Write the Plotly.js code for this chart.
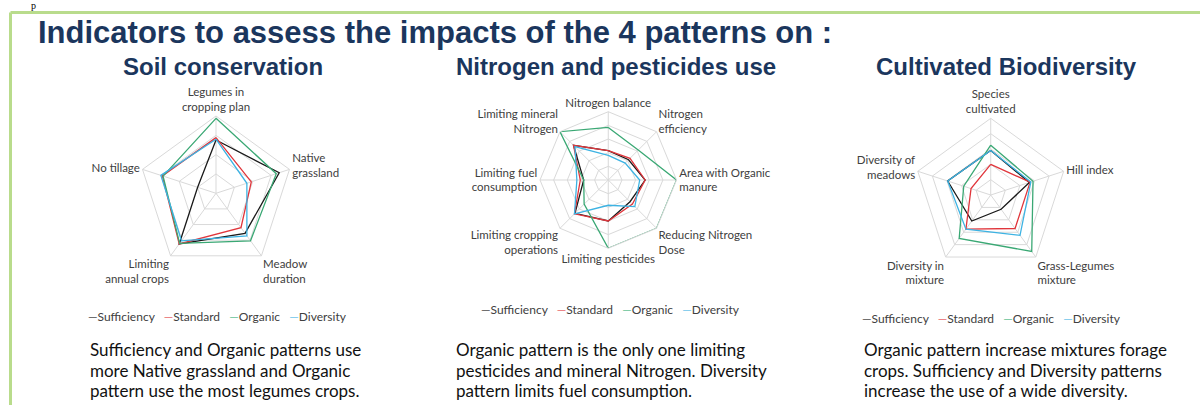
<!DOCTYPE html>
<html>
<head>
<meta charset="utf-8">
<script src="https://cdn.plot.ly/plotly-3.0.1.min.js"></script>
<style>html,body{margin:0;padding:0;background:#fff;}#chart{width:1200px;height:405px;}</style>
</head>
<body>
<div id="chart"></div>
<script>
// ---- Data ----
const seriesNames = ['Sufficiency', 'Standard', 'Organic', 'Diversity'];

const soilAxes = ['Legumes in<br>cropping plan', 'Native<br>grassland', 'Meadow<br>duration', 'Limiting<br>annual crops', 'No tillage'];
const soilSufficiency = [0.69, 0.86, 0.64, 0.81, 0.25];
const soilStandard    = [0.72, 0.48, 0.55, 0.81, 0.73];
const soilOrganic     = [0.97, 0.82, 0.76, 0.80, 0.72];
const soilDiversity   = [0.70, 0.42, 0.68, 0.76, 0.75];

const nitroAxes = ['Nitrogen balance', 'Nitrogen<br>efficiency', 'Area with Organic<br>manure', 'Reducing Nitrogen<br>Dose', 'Limiting pesticides', 'Limiting cropping<br>operations', 'Limiting fuel<br>consumption', 'Limiting mineral<br>Nitrogen'];
const nitroSufficiency = [0.43, 0.42, 0.54, 0.45, 0.60, 0.69, 0.36, 0.72];
const nitroStandard    = [0.43, 0.45, 0.54, 0.50, 0.60, 0.70, 0.41, 0.72];
const nitroOrganic     = [0.77, 0.62, 1.00, 1.00, 1.00, 0.50, 0.36, 1.00];
const nitroDiversity   = [0.36, 0.35, 0.46, 0.55, 0.37, 0.70, 0.46, 0.69];

const bioAxes = ['Species<br>cultivated', 'Hill index', 'Grass-Legumes<br>mixture', 'Diversity in<br>mixture', 'Diversity of<br>meadows'];
const bioSufficiency = [0.58, 0.53, 0.23, 0.42, 0.59];
const bioStandard    = [0.40, 0.54, 0.54, 0.55, 0.27];
const bioOrganic     = [0.65, 0.58, 0.91, 0.70, 0.37];
const bioDiversity   = [0.58, 0.55, 0.65, 0.55, 0.59];

const mainTitle = 'Indicators to assess the impacts of the 4 patterns on :';
const chartTitles = ['Soil conservation', 'Nitrogen and pesticides use', 'Cultivated Biodiversity'];
const captions = [
  ['Sufficiency and Organic patterns use', 'more Native grassland and Organic', 'pattern use the most legumes crops.'],
  ['Organic pattern is the only one limiting', 'pesticides and mineral Nitrogen. Diversity', 'pattern limits fuel consumption.'],
  ['Organic pattern increase mixtures forage', 'crops. Sufficiency and Diversity patterns', 'increase the use of a wide diversity.']
];

// ---- Styles ----
const colors = ['#1a1a1a', '#e0363c', '#3aa874', '#3db3e3'];
const legendColors = ['#555555', '#e86f72', '#6cc39a', '#74c6ea'];
const labelFont = {family: 'Lato, "Open Sans", sans-serif', size: 11.5, color: '#404040'};
const navy = '#1b365d';

const charts = [
  {axes: soilAxes, data: [soilSufficiency, soilStandard, soilOrganic, soilDiversity], polar: 'polar', dtick: 0.25,
   domain: {x: [0.1156, 0.2444], y: [0.3319, 0.7136]}},
  {axes: nitroAxes, data: [nitroSufficiency, nitroStandard, nitroOrganic, nitroDiversity], polar: 'polar2', dtick: 0.2,
   domain: {x: [0.45, 0.5638], y: [0.3869, 0.7242]}},
  {axes: bioAxes, data: [bioSufficiency, bioStandard, bioOrganic, bioDiversity], polar: 'polar3', dtick: 0.2,
   domain: {x: [0.7617, 0.8895], y: [0.3291, 0.7079]}}
];

const traces = [];
charts.forEach(ch => {
  ch.data.forEach((vals, i) => {
    traces.push({
      type: 'scatterpolar', mode: 'lines', subplot: ch.polar, name: seriesNames[i],
      r: vals.concat([vals[0]]), theta: ch.axes.concat([ch.axes[0]]),
      line: {color: colors[i], width: 1.3}, showlegend: false, hoverinfo: 'skip'
    });
  });
});

const layout = {
  width: 1200, height: 405,
  margin: {l: 0, r: 0, t: 0, b: 0},
  paper_bgcolor: '#ffffff',
  showlegend: false,
  shapes: [
    {type: 'line', xref: 'paper', yref: 'paper', x0: 10.5/1200, x1: 1, y0: 1 - 12.5/405, y1: 1 - 12.5/405, line: {color: '#b9dc8c', width: 3}},
    {type: 'line', xref: 'paper', yref: 'paper', x0: 10.5/1200, x1: 10.5/1200, y0: 0, y1: 1 - 12.5/405, line: {color: '#b9dc8c', width: 3}}
  ],
  annotations: []
};

charts.forEach((ch, k) => {
  layout[ch.polar] = {
    domain: ch.domain,
    bgcolor: 'rgba(0,0,0,0)',
    gridshape: 'linear',
    radialaxis: {range: [0, 1], dtick: ch.dtick, showticklabels: false, ticks: '', showline: false, gridcolor: '#d9d9d9', gridwidth: 1},
    angularaxis: {direction: 'clockwise', rotation: 90, tickfont: labelFont, ticks: '', showline: true, linecolor: '#d9d9d9', gridcolor: '#d9d9d9'}
  };
});

// title
layout.annotations.push({xref: 'paper', yref: 'paper', x: 36/1200, y: 1 - 32/405, xanchor: 'left', yanchor: 'middle', showarrow: false,
  text: '<b>' + mainTitle + '</b>', font: {family: '"Liberation Sans", Arial, sans-serif', size: 31, color: navy}});
// tiny glyph at top-left
layout.annotations.push({xref: 'paper', yref: 'paper', x: 33/1200, y: 1 - 5/405, xanchor: 'center', yanchor: 'middle', showarrow: false,
  text: 'p', font: {family: '"Liberation Serif", serif', size: 10, color: '#000'}});

const subX = [223, 616, 1006];
const legendPos = [[217, 316], [610, 309], [991, 318]];
const captionX = [88, 454, 862];
const captionY = [349, 370, 390];
chartTitles.forEach((t, k) => {
  layout.annotations.push({xref: 'paper', yref: 'paper', x: subX[k]/1200, y: 1 - 67/405, xanchor: 'center', yanchor: 'middle', showarrow: false,
    text: '<b>' + t + '</b>', font: {family: '"Liberation Sans", Arial, sans-serif', size: 24, color: navy}});
  const legText = seriesNames.map((n, i) => '<span style="color:' + legendColors[i] + '">—</span>' + n).join('   ');
  layout.annotations.push({xref: 'paper', yref: 'paper', x: legendPos[k][0]/1200, y: 1 - legendPos[k][1]/405, xanchor: 'center', yanchor: 'middle', showarrow: false,
    text: legText, font: {family: 'Lato, "Open Sans", sans-serif', size: 12, color: '#404040'}});
  captions[k].forEach((line, j) => {
    layout.annotations.push({xref: 'paper', yref: 'paper', x: captionX[k]/1200, y: 1 - captionY[j]/405, xanchor: 'left', yanchor: 'middle', showarrow: false,
      text: line, font: {family: 'Lato, "Open Sans", sans-serif', size: 17, color: '#111111'}});
  });
});

Plotly.newPlot('chart', traces, layout, {displayModeBar: false, staticPlot: true});
</script>
</body>
</html>
